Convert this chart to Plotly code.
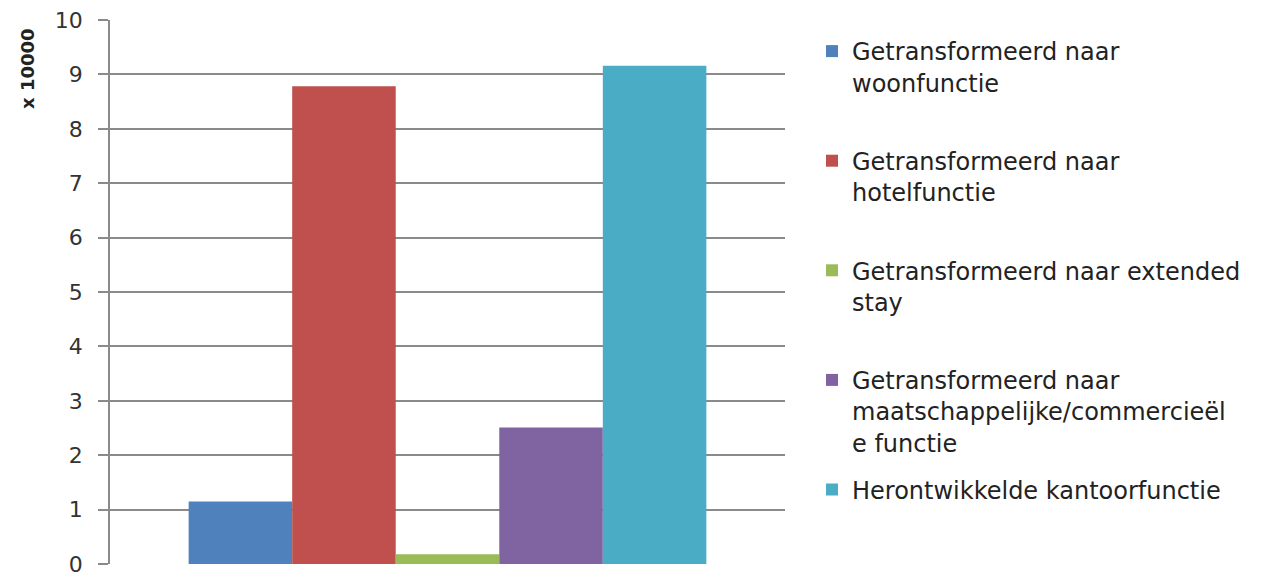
import plotly.graph_objects as go

categories = [""]
series_names = [
    "Getransformeerd naar<br>woonfunctie<br> ",
    "Getransformeerd naar<br>hotelfunctie<br> ",
    "Getransformeerd naar extended<br>stay<br> ",
    "Getransformeerd naar<br>maatschappelijke/commercieël<br>e functie",
    "Herontwikkelde kantoorfunctie",
]
series_values = [1.15, 8.78, 0.18, 2.51, 9.16]
series_colors = ["#4F81BD", "#C0504D", "#9BBB59", "#8064A2", "#4BACC6"]
y_ticks = list(range(0, 11))

fig = go.Figure()
for i, (name, val, col) in enumerate(zip(series_names, series_values, series_colors)):
    fig.add_trace(go.Bar(
        x=categories, y=[val], name=name,
        marker=dict(color=col, line=dict(width=0)),
        legendgroup=f"g{i}",
    ))

# page body has an 8px margin; compensate so the plot area lands at x 110-785, y 20-564
W, H = 1257, 571
L, R, T, B = 102, 480, 12, 15
PW, PH = W - L - R, H - T - B
fig.update_layout(
    width=W, height=H,
    margin=dict(l=L, r=R, t=T, b=B, autoexpand=False),
    paper_bgcolor="white", plot_bgcolor="white",
    barmode="group", bargap=0.233, bargroupgap=0,
    font=dict(family="DejaVu Sans", size=20, color="#222222"),
    showlegend=True,
    legend=dict(
        x=1.0 + 27 / PW, xanchor="left", y=1.0 - 9 / PH, yanchor="top",
        font=dict(family="DejaVu Sans", size=24, color="#222222"),
        valign="top", tracegroupgap=13,
        bgcolor="rgba(0,0,0,0)", borderwidth=0,
    ),
    xaxis=dict(
        showticklabels=False, showgrid=False, zeroline=False,
        showline=False, ticks="",
    ),
    yaxis=dict(
        range=[0, 10], tickvals=y_ticks, ticktext=[str(v) for v in y_ticks],
        showgrid=True, gridcolor="#8a8a8a", gridwidth=1.5,
        zeroline=False,
        showline=True, linecolor="#8a8a8a", linewidth=1.5,
        ticks="outside", ticklen=10, tickcolor="#8a8a8a", tickwidth=1.5,
        ticklabelstandoff=11, ticklabeloverflow="allow",
        tickfont=dict(family="DejaVu Sans", size=22, color="#333333"),
    ),
    annotations=[dict(
        text="<b>x 10000</b>", textangle=-90,
        xref="paper", yref="paper", x=(19 - L) / PW, y=(H - B - 61) / PH,
        xanchor="center", yanchor="middle", showarrow=False,
        font=dict(family="DejaVu Sans", size=18, color="#222222"),
    )],
)

fig.write_html("out.html")
